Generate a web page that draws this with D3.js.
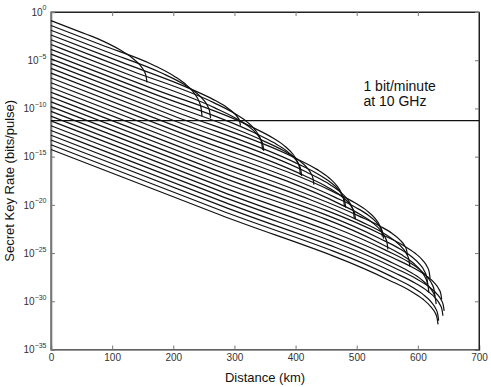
<!DOCTYPE html>
<html><head><meta charset="utf-8">
<script src="https://cdn.jsdelivr.net/npm/d3@7"></script>
<style>
body{margin:0;background:#fff}
text{font-family:"Liberation Sans",Arial,Helvetica,sans-serif}
</style>
</head><body>
<svg id="chart" width="491" height="387"></svg>
<script>
// ---- data: [distance km, log10(secret key rate in bits/pulse)] ----
const xTickValues = [0,100,200,300,400,500,600,700];
const yTickExponents = [0,-5,-10,-15,-20,-25,-30,-35];
const thresholdExponent = -11.27;
const thresholdLabel = ["1 bit/minute","at 10 GHz"];

const curve00 = [[0,-0.9],[38,-1.83],[77,-2.79],[112,-3.90],[132,-4.72],[145,-5.47],[152,-6.10],[155.5,-6.65],[157,-7.30]];
const curve01 = [[0,-1.395],[84,-3.45],[167,-5.49],[202,-6.68],[222,-7.61],[235,-8.49],[242,-9.27],[245.5,-9.96],[247,-10.80]];
const curve02 = [[0,-1.89],[90,-4.10],[181,-6.33],[216,-7.45],[236,-8.30],[249,-9.08],[256,-9.74],[259.5,-10.32],[261,-11.0]];
const curve03 = [[0,-2.385],[115,-5.20],[230,-8.02],[265,-9.06],[285,-9.78],[298,-10.41],[305,-10.90],[308.5,-11.31],[310,-11.78]];
const curve04 = [[0,-2.88],[133,-6.14],[266,-9.40],[301,-10.55],[321,-11.42],[334,-12.24],[341,-12.94],[344.5,-13.55],[346,-14.30]];
const curve05 = [[0,-3.375],[134,-6.66],[268,-9.94],[303,-11.05],[323,-11.86],[336,-12.61],[343,-13.23],[346.5,-13.76],[348,-14.40]];
const curve06 = [[0,-3.87],[164,-7.89],[328,-11.91],[363,-13.07],[383,-13.95],[396,-14.78],[403,-15.50],[406.5,-16.13],[408,-16.90]];
const curve07 = [[0,-4.365],[165,-8.41],[330,-12.45],[365,-13.57],[385,-14.39],[398,-15.15],[405,-15.79],[408.5,-16.34],[410,-17.0]];
const curve08 = [[0,-4.86],[175,-9.15],[350,-13.44],[385,-14.54],[405,-15.36],[418,-16.10],[425,-16.72],[428.5,-17.26],[430,-17.90]];
const curve09 = [[0,-5.355],[200,-10.26],[400,-15.16],[435,-16.32],[455,-17.21],[468,-18.06],[475,-18.79],[478.5,-19.43],[480,-20.21]];
const curve10 = [[0,-5.85],[201,-10.78],[402,-15.70],[437,-16.82],[457,-17.65],[470,-18.42],[477,-19.07],[480.5,-19.63],[482,-20.30]];
const curve11 = [[0,-6.345],[208,-11.44],[416,-16.54],[451,-17.69],[471,-18.55],[484,-19.36],[491,-20.06],[494.5,-20.66],[496,-21.40]];
const curve12 = [[0,-6.84],[209,-11.96],[418,-17.08],[453,-18.19],[473,-19.0],[486,-19.73],[493,-20.35],[496.5,-20.87],[498,-21.50]];
const curve13 = [[0,-7.335],[231,-13.0],[462,-18.65],[497,-19.78],[517,-20.62],[530,-21.40],[537,-22.05],[540.5,-22.62],[542,-23.30]];
const curve14 = [[0,-7.83],[232,-13.51],[464,-19.20],[499,-20.29],[519,-21.08],[532,-21.80],[539,-22.39],[542.5,-22.90],[544,-23.50]];
const curve15 = [[0,-8.325],[235,-14.08],[471,-19.87],[506,-21.0],[526,-21.85],[539,-22.64],[546,-23.31],[549.5,-23.90],[551,-24.61]];
const curve16 = [[0,-8.82],[251,-14.97],[503,-21.14],[538,-22.21],[558,-22.97],[571,-23.65],[578,-24.20],[581.5,-24.66],[583,-25.20]];
const curve17 = [[0,-9.315],[253,-15.51],[507,-21.74],[542,-22.86],[562,-23.71],[575,-24.48],[582,-25.14],[585.5,-25.71],[587,-26.40]];
const curve18 = [[0,-9.81],[270,-16.43],[540,-23.04],[575,-24.16],[595,-24.99],[608,-25.75],[615,-26.39],[618.5,-26.94],[620,-27.60]];
const curve19 = [[0,-10.305],[268,-16.87],[536,-23.44],[571,-24.58],[591,-25.43],[604,-26.22],[611,-26.90],[614.5,-27.49],[616,-28.20]];
const curve20 = [[0,-10.8],[269,-17.39],[538,-23.98],[573,-25.16],[593,-26.06],[606,-26.91],[613,-27.65],[616.5,-28.31],[618,-29.10]];
const curve21 = [[0,-11.295],[274,-18.01],[548,-24.72],[583,-25.86],[603,-26.72],[616,-27.52],[623,-28.20],[626.5,-28.79],[628,-29.50]];
const curve22 = [[0,-11.79],[280,-18.65],[559,-25.49],[594,-26.58],[614,-27.37],[627,-28.09],[634,-28.69],[637.5,-29.20],[639,-29.80]];
const curve23 = [[0,-12.285],[275,-19.02],[550,-25.76],[585,-26.88],[605,-27.70],[618,-28.46],[625,-29.09],[628.5,-29.64],[630,-30.30]];
const curve24 = [[0,-12.78],[282,-19.69],[563,-26.57],[598,-27.68],[618,-28.49],[631,-29.23],[638,-29.84],[641.5,-30.37],[643,-31.0]];
const curve25 = [[0,-13.275],[281,-20.16],[561,-27.02],[596,-28.13],[616,-28.95],[629,-29.69],[636,-30.32],[639.5,-30.86],[641,-31.50]];
const curve26 = [[0,-13.77],[277,-20.56],[554,-27.34],[589,-28.47],[609,-29.31],[622,-30.09],[629,-30.74],[632.5,-31.32],[634,-32.0]];
const curve27 = [[0,-14.265],[277,-21.05],[553,-27.81],[588,-28.93],[608,-29.77],[621,-30.55],[628,-31.17],[631.5,-31.74],[633,-32.40]];
const curves = [curve00,curve01,curve02,curve03,curve04,curve05,curve06,curve07,curve08,curve09,
                curve10,curve11,curve12,curve13,curve14,curve15,curve16,curve17,curve18,curve19,
                curve20,curve21,curve22,curve23,curve24,curve25,curve26,curve27];

// ---- layout ----
const W=491,H=387;
const m={left:51,right:12,top:12,bottom:37.5};
const svg=d3.select("#chart");
const x=d3.scaleLinear().domain([0,700]).range([m.left,W-m.right]);
const y=d3.scaleLog().domain([1e-35,1]).range([H-m.bottom,m.top]);

svg.append("rect").attr("x",m.left).attr("y",m.top)
  .attr("width",W-m.right-m.left).attr("height",H-m.bottom-m.top)
  .attr("fill","none").attr("stroke","#222").attr("stroke-width",1);

const tickLen=4;
const yTickVals=yTickExponents.map(e=>Math.pow(10,e));
const gx=svg.append("g").attr("transform",`translate(0,${H-m.bottom})`)
  .call(d3.axisBottom(x).tickValues(xTickValues).tickSize(-tickLen).tickPadding(4).tickFormat(d3.format("d")));
const gxt=svg.append("g").attr("transform",`translate(0,${m.top})`)
  .call(d3.axisTop(x).tickValues(xTickValues).tickSize(-tickLen).tickFormat(""));
const gy=svg.append("g").attr("transform",`translate(${m.left},0)`)
  .call(d3.axisLeft(y).tickValues(yTickVals).tickSize(-tickLen).tickFormat(""));
const gyr=svg.append("g").attr("transform",`translate(${W-m.right},0)`)
  .call(d3.axisRight(y).tickValues(yTickVals).tickSize(-tickLen).tickFormat(""));

[gx,gxt,gy,gyr].forEach(g=>{
  g.select(".domain").attr("stroke","#777").attr("stroke-width",1.6);
  g.selectAll(".tick line").attr("stroke","#777");
});
gxt.select(".domain").attr("stroke","#222").attr("stroke-width",1);
gyr.select(".domain").attr("stroke","#222").attr("stroke-width",1);
gx.selectAll(".tick text").attr("font-size",10).attr("fill","#333");

gy.selectAll(".tick").each(function(d,i){
  const t=d3.select(this).append("text").attr("x",-4.5).attr("dy","0.32em")
    .attr("text-anchor","end").attr("fill","#333").attr("font-size",10);
  t.append("tspan").text("10");
  t.append("tspan").attr("font-size",7).attr("dy","-0.75em").text(String(yTickExponents[i]).replace("-","\u2212"));
});

// curves
const line=d3.line().x(d=>x(d[0])).y(d=>y(Math.pow(10,d[1]))).curve(d3.curveMonotoneX);
svg.append("g").selectAll("path").data(curves).join("path")
  .attr("d",line).attr("fill","none").attr("stroke","#111").attr("stroke-width",1.2);

// threshold line and label
const ty=y(Math.pow(10,thresholdExponent));
svg.append("line").attr("x1",x(0)).attr("x2",x(700)).attr("y1",ty).attr("y2",ty)
  .attr("stroke","#111").attr("stroke-width",1.3);
svg.append("text").attr("y",90.5).attr("font-size",14).attr("fill","#111")
  .selectAll("tspan").data(thresholdLabel).join("tspan")
  .attr("x",x(511)).attr("dy",(d,i)=>i?"1.1em":0).text(d=>d);

// axis titles
svg.append("text").attr("x",(m.left+W-m.right)/2).attr("y",382)
  .attr("text-anchor","middle").attr("font-size",13).attr("fill","#111").text("Distance (km)");
svg.append("text").attr("transform",`translate(14,${(m.top+H-m.bottom)/2}) rotate(-90)`)
  .attr("text-anchor","middle").attr("font-size",13).attr("fill","#111").text("Secret Key Rate (bits/pulse)");
</script>
</body></html>
